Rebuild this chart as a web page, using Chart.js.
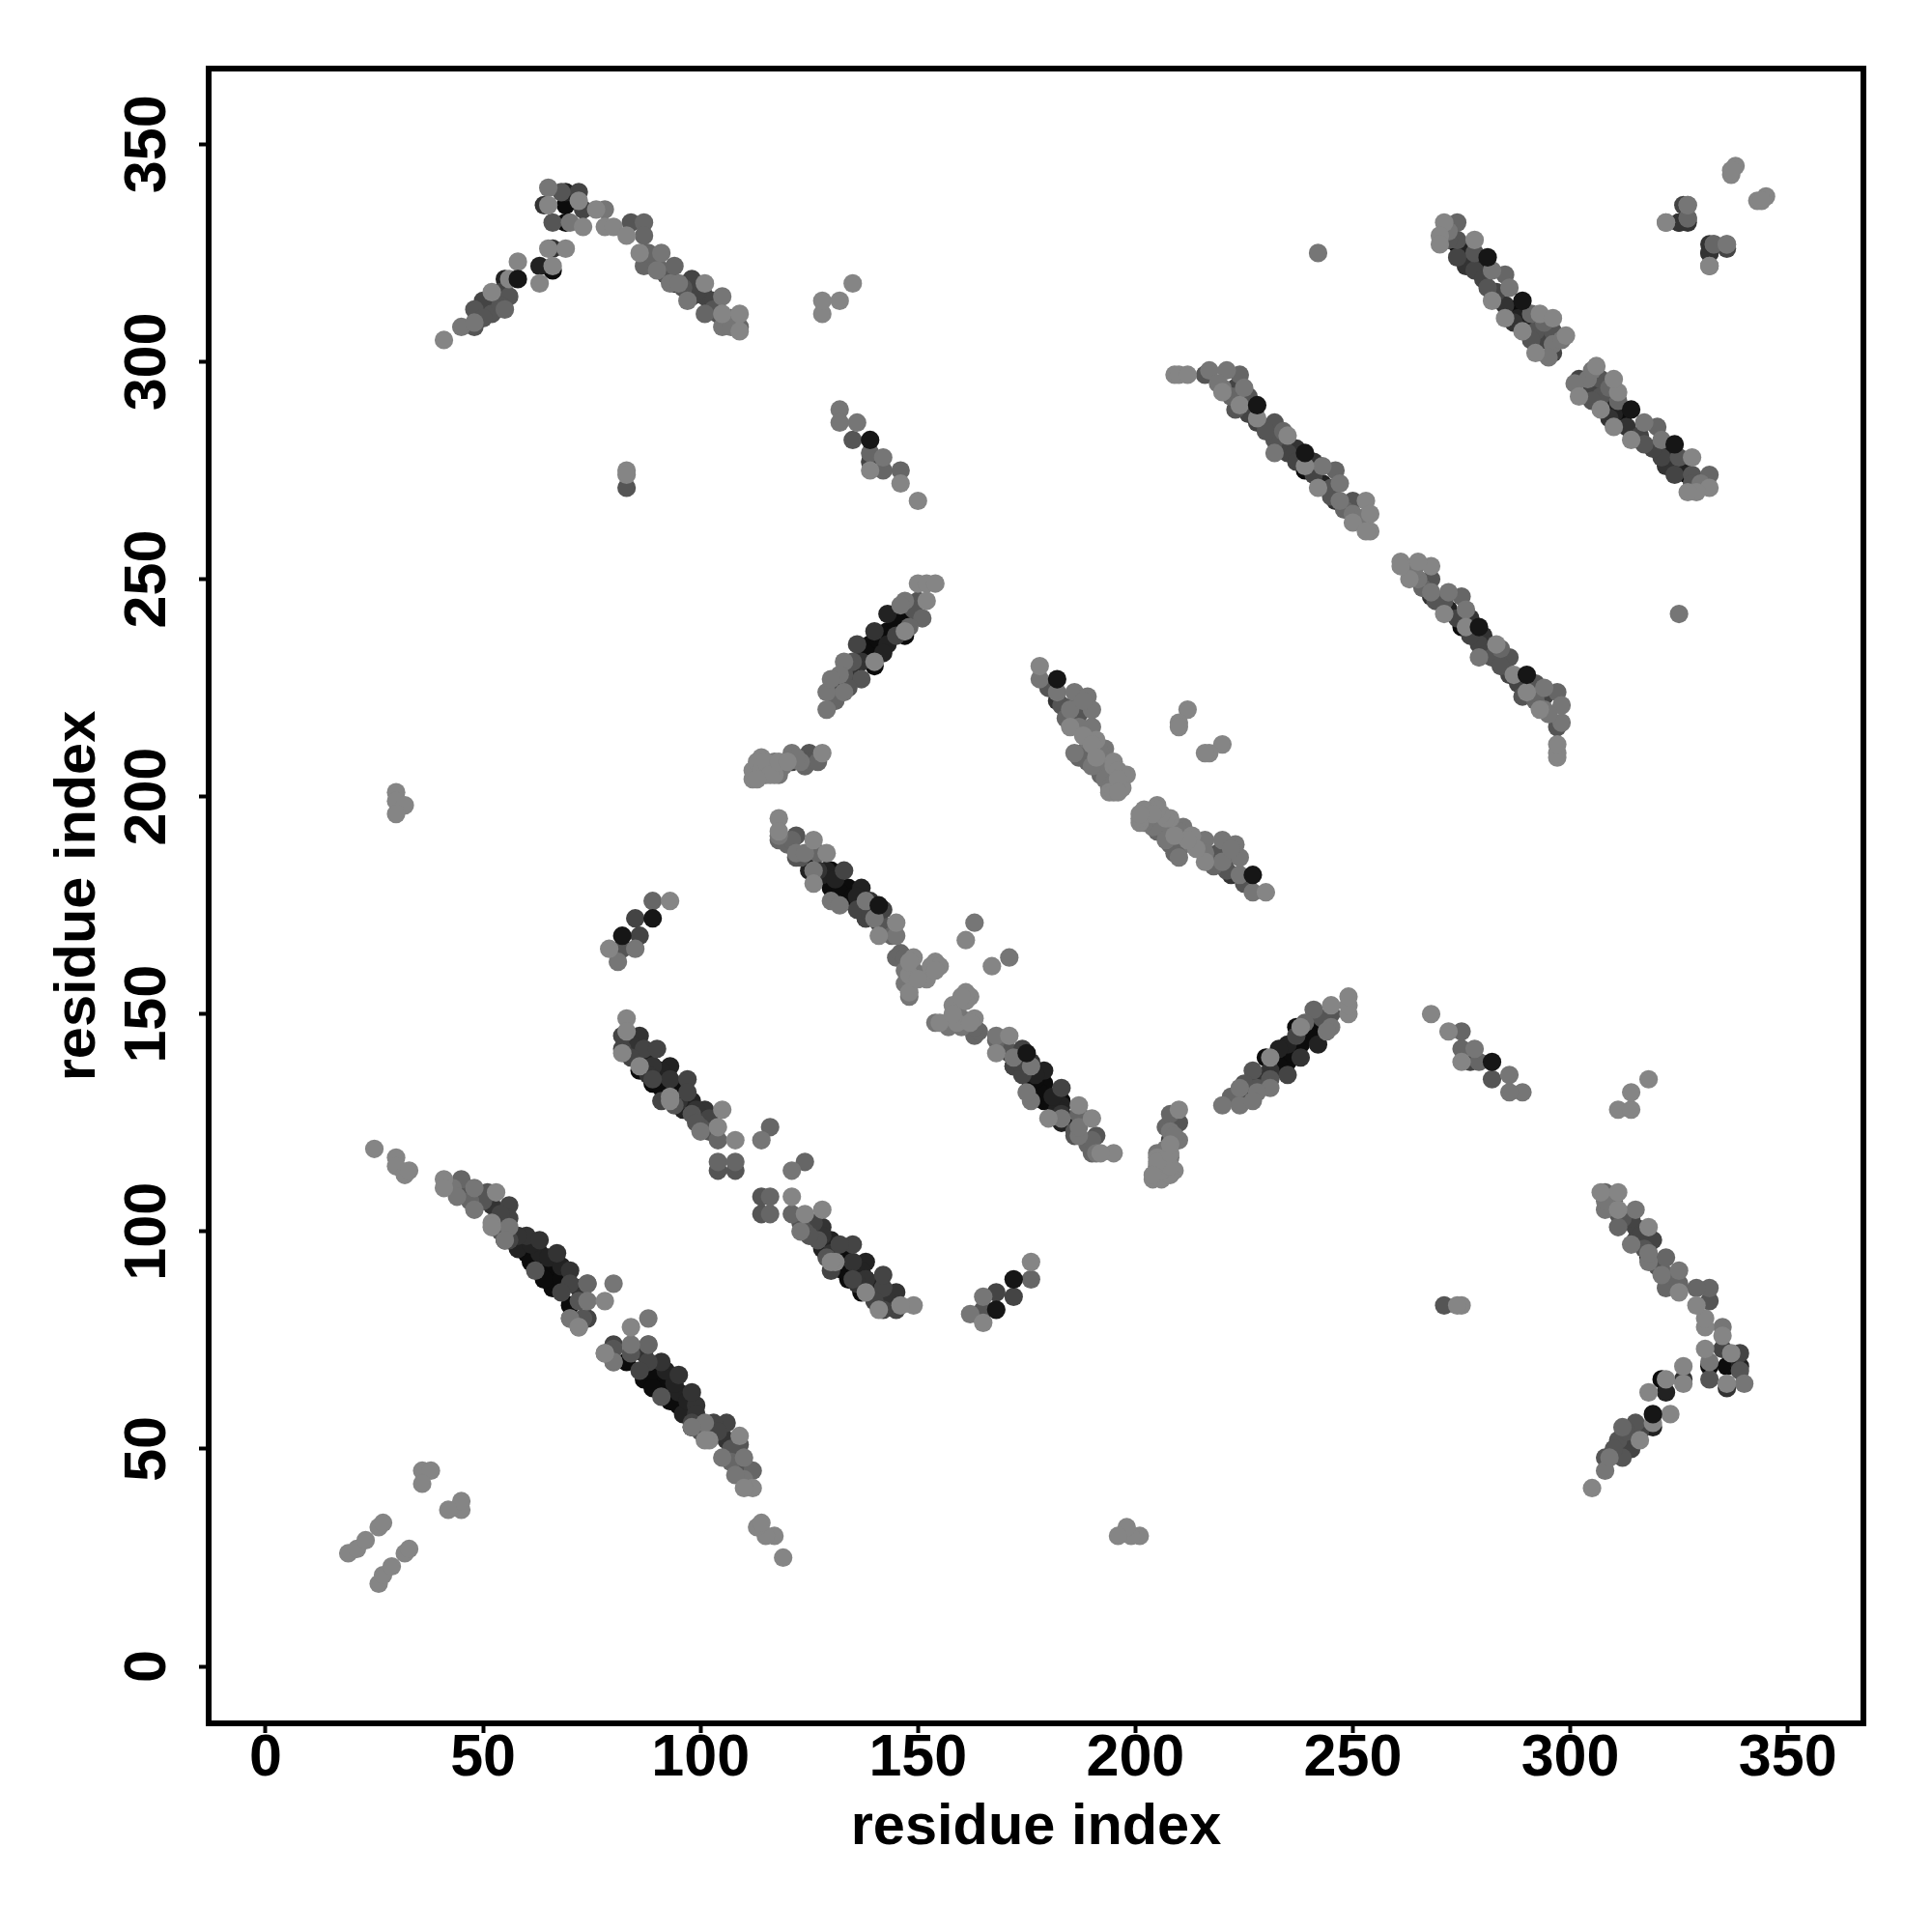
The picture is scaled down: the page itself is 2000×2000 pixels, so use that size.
<!DOCTYPE html>
<html>
<head>
<meta charset="utf-8">
<script src="https://cdn.jsdelivr.net/npm/chart.js@4"></script>
<style>
  body { margin: 0; background: #fff; }
  canvas { display: block; }
</style>
</head>
<body>
<canvas id="contactMap" width="2000" height="2000"></canvas>
<script>
// residue contacts, upper triangle only (i < j), grouped by grey level
const tickValues = [0, 50, 100, 150, 200, 250, 300, 350];
const axisTitle = 'residue index';

const contactsBlack = [[66,321],[69,336],[69,332],[94,318],[147,241],[147,237],[143,238],[139,235],[140,230],[130,183],[130,179],[134,179],[134,176],[85,141],[86,137],[89,138],[93,134],[100,127],[60,95],[66,91],[66,88],[66,87],[70,83],[55,98],[239,275],[274,327],[89,134],[132,178],[135,177],[138,233],[141,236],[145,240],[91,133],[95,133],[64,92],[64,89],[68,89],[61,93],[287,312]];
const contacts22 = [[55,319],[63,322],[69,339],[97,318],[143,242],[143,235],[136,231],[133,227],[137,179],[129,183],[125,187],[125,183],[93,138],[96,128],[63,95],[243,272],[277,324],[292,306],[288,310],[128,182],[131,181],[136,177],[142,233],[134,229],[88,140],[91,137],[98,130],[58,96],[61,97],[65,94],[68,92],[276,326],[279,322],[290,309]];
const contacts33 = [[66,326],[64,336],[140,238],[86,145],[89,138],[93,135],[101,128],[60,99],[63,98],[67,95],[70,91],[48,108],[52,106],[246,268],[285,313],[325,332],[327,332],[332,325],[182,222],[138,172],[89,138],[127,183],[139,176],[137,231],[135,227],[84,143],[88,136],[95,130],[99,128],[58,99],[72,87],[237,280],[241,277],[287,309],[276,322]];
const contacts44 = [[72,339],[73,335],[98,319],[98,315],[101,315],[52,313],[136,235],[121,208],[133,183],[138,172],[141,171],[82,145],[82,142],[87,142],[90,142],[89,135],[97,135],[97,132],[56,106],[56,103],[56,98],[70,88],[80,74],[223,294],[228,286],[235,279],[274,324],[278,321],[296,302],[336,326],[139,277],[85,172],[86,168],[142,174],[136,174],[139,173],[131,225],[145,237],[84,140],[102,126],[91,130],[54,104],[68,86],[226,288],[233,281],[237,277],[241,274],[294,305],[280,319],[283,316],[50,314],[54,316],[99,316],[103,314]];
const contacts55 = [[48,312],[48,308],[52,311],[56,315],[66,332],[68,339],[84,332],[104,311],[133,228],[135,231],[137,227],[125,210],[125,208],[150,245],[122,191],[122,186],[100,124],[104,114],[108,114],[45,109],[51,109],[62,91],[73,80],[216,297],[223,289],[232,286],[232,282],[250,268],[274,328],[278,325],[281,317],[292,307],[296,307],[327,333],[186,221],[83,271],[135,282],[82,165],[143,170],[123,186],[134,225],[149,243],[94,129],[98,127],[99,125],[102,123],[50,107],[54,100],[72,84],[230,284],[245,271],[245,269],[226,292],[272,328],[291,305],[50,310],[54,313],[89,323],[92,320],[96,317],[103,312],[180,225],[183,221],[187,219]];
const contacts66 = [[55,312],[87,332],[87,329],[87,325],[87,322],[90,322],[94,322],[101,311],[109,308],[151,241],[145,163],[118,190],[104,116],[104,121],[108,116],[116,124],[45,112],[74,88],[80,70],[88,74],[224,297],[246,275],[142,275],[146,275],[274,332],[285,320],[333,327],[189,210],[189,208],[139,279],[89,176],[144,168],[120,189],[121,190],[127,187],[131,222],[148,239],[47,107],[234,284],[248,266],[222,292],[294,309],[291,311],[88,325],[107,310],[184,218],[190,209],[188,210],[187,209],[193,206],[192,205],[124,207],[127,208],[146,164],[147,163]];
const contacts77 = [[45,308],[48,309],[65,340],[70,332],[78,335],[91,325],[90,321],[93,318],[95,318],[97,314],[105,315],[105,308],[147,245],[133,231],[132,228],[129,224],[129,220],[133,224],[121,210],[117,208],[123,208],[148,154],[145,168],[138,176],[130,176],[122,187],[124,187],[126,183],[118,191],[100,123],[114,121],[48,110],[48,105],[56,101],[55,98],[74,84],[70,80],[88,80],[217,298],[221,298],[220,294],[225,294],[232,279],[243,276],[247,272],[247,268],[250,265],[282,321],[286,317],[296,304],[295,301],[322,332],[327,336],[336,327],[242,325],[132,289],[132,286],[136,286],[142,278],[178,227],[182,224],[186,224],[189,223],[185,220],[190,220],[190,216],[186,210],[193,211],[192,207],[194,204],[163,171],[81,162],[85,165],[132,175],[140,172],[130,227],[146,244],[43,110],[44,108],[252,264],[219,295],[272,330],[298,305],[107,308],[187,216],[188,222],[189,213],[191,211],[192,210],[193,208],[194,207],[190,207],[193,204],[195,203],[194,202],[115,205],[116,207],[118,205],[119,207],[122,209],[147,160],[149,160],[147,157],[151,159]];
const contacts88 = [[41,305],[52,316],[56,319],[58,323],[63,318],[66,322],[65,326],[69,326],[65,336],[72,337],[73,331],[76,335],[78,331],[80,331],[83,329],[86,325],[101,318],[105,311],[109,311],[109,307],[150,249],[152,249],[154,249],[152,245],[147,238],[140,231],[128,210],[117,205],[114,209],[113,206],[112,204],[118,195],[118,192],[126,190],[129,187],[126,180],[145,171],[141,168],[149,163],[154,162],[148,159],[152,158],[148,155],[83,149],[83,146],[82,141],[86,138],[93,131],[93,130],[105,128],[104,124],[108,121],[25,119],[30,117],[30,115],[32,113],[33,114],[41,112],[41,110],[53,109],[52,102],[52,101],[78,84],[72,78],[78,72],[19,26],[21,27],[23,29],[26,32],[27,33],[36,45],[38,45],[36,42],[30,201],[30,199],[32,198],[30,196],[83,275],[83,274],[128,311],[128,314],[132,314],[135,318],[139,275],[146,272],[150,268],[209,297],[210,297],[212,297],[220,293],[224,290],[228,287],[235,283],[242,271],[250,263],[253,268],[254,265],[254,261],[253,261],[239,276],[271,332],[270,329],[270,327],[278,328],[282,314],[285,310],[289,307],[293,311],[296,310],[299,306],[292,302],[332,322],[337,343],[338,345],[337,344],[178,230],[185,216],[191,213],[195,208],[198,205],[194,201],[196,202],[197,202],[212,220],[210,217],[210,216],[161,167],[93,176],[79,165],[188,214],[190,212],[191,209],[195,207],[196,206],[197,205],[196,204],[195,201],[196,201],[112,206],[113,208],[114,206],[115,208],[116,205],[118,208],[120,208],[113,204],[148,162],[150,158],[153,161],[155,161],[154,160]];
// dark dots that sit on top of their neighbours
const contactsTop = [[58,319],[141,175],[289,314],[281,324],[239,279],[139,282],[182,227],[228,290],[82,168],[89,172]];

// the map is symmetric, every contact shows at (i, j) and (j, i)
const bothSides = contacts => contacts.flatMap(([i, j]) => [{ x: i, y: j }, { x: j, y: i }]);

const layers = [
    { data: contactsTop, color: '#161616' },
    { data: contacts88, color: '#858585' },
    { data: contacts77, color: '#767676' },
    { data: contacts66, color: '#666666' },
    { data: contacts55, color: '#555555' },
    { data: contacts44, color: '#444444' },
    { data: contacts33, color: '#333333' },
    { data: contacts22, color: '#222222' },
    { data: contactsBlack, color: '#0c0c0c' }
];

const framePlugin = {
    id: 'frame',
    afterDatasetsDraw(chart) {
        const { ctx, chartArea } = chart;
        ctx.save();
        ctx.strokeStyle = '#000';
        ctx.lineWidth = 6;
        ctx.strokeRect(chartArea.left, chartArea.top, chartArea.width, chartArea.height);
        ctx.restore();
    }
};

const tickFont = { family: '"Liberation Sans"', weight: 'bold', size: 61 };
const titleFont = { family: '"Liberation Sans"', weight: 'bold', size: 59.5 };

function axis(extra) {
    return Object.assign({
        type: 'linear',
        min: -13.1,
        max: 367.4,
        afterBuildTicks(scale) {
            scale.ticks = tickValues.map(value => ({ value }));
        },
        border: { display: false },
        grid: { drawOnChartArea: false, color: '#000', tickLength: 10, tickWidth: 4 }
    }, extra);
}

new Chart(document.getElementById('contactMap').getContext('2d'), {
    type: 'scatter',
    data: {
        datasets: layers.map(layer => ({
            data: bothSides(layer.data),
            backgroundColor: layer.color,
            borderWidth: 0,
            pointRadius: 9.6,
            pointHoverRadius: 9.6
        }))
    },
    plugins: [framePlugin],
    options: {
        responsive: false,
        animation: false,
        layout: { padding: { top: 71, right: 71, left: 0, bottom: 0 } },
        plugins: { legend: { display: false }, tooltip: { enabled: false } },
        scales: {
            x: axis({
                afterFit(scale) { scale.height = 216; },
                ticks: { color: '#000', font: tickFont, padding: -9, maxRotation: 0, autoSkip: false },
                title: { display: true, text: axisTitle, color: '#000', font: titleFont, padding: { top: 0, bottom: 72 } }
            }),
            y: axis({
                afterFit(scale) { scale.width = 216; },
                ticks: { color: '#000', font: tickFont, padding: 1, minRotation: 90, maxRotation: 90, crossAlign: 'center', autoSkip: false },
                title: { display: true, text: axisTitle, color: '#000', font: titleFont, padding: { top: 46, bottom: 0 } }
            })
        }
    }
});
</script>
</body>
</html>
